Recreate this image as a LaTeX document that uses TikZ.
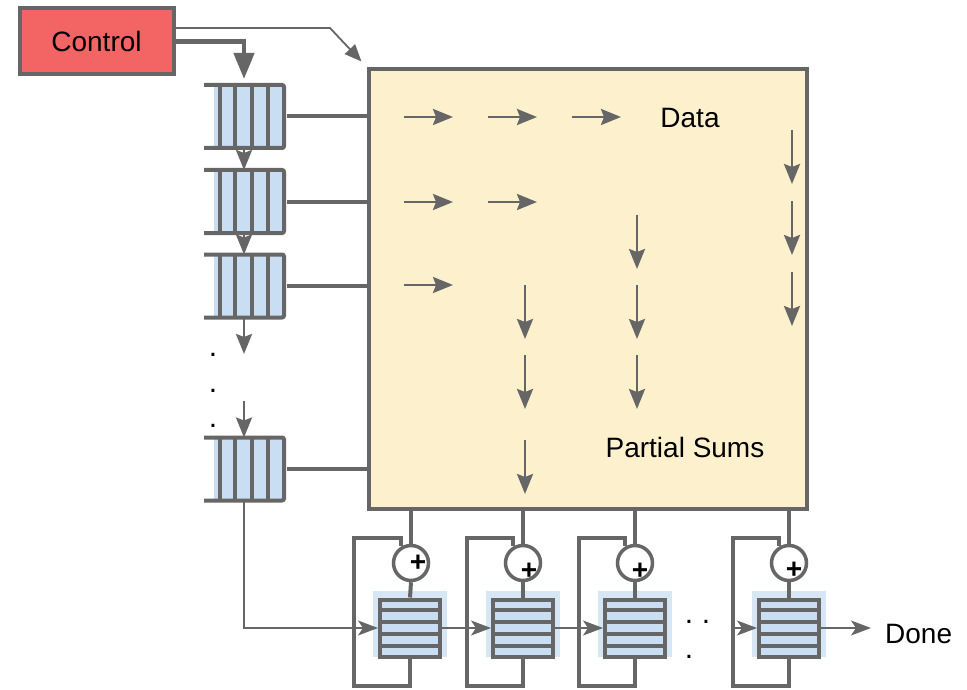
\documentclass[tikz,border=0pt]{standalone}
\usepackage{fontspec}
\setmainfont{Liberation Sans}
\usetikzlibrary{arrows.meta,calc}
\definecolor{lg}{HTML}{666666}
\definecolor{ctrlred}{HTML}{F36464}
\definecolor{cream}{HTML}{FDF0CD}
\definecolor{qblue}{HTML}{C9DEF2}
\definecolor{qhalo}{HTML}{D6E6F5}
\tikzset{
  wire/.style={draw=lg, line width=4pt},
  flow/.style={draw=lg, line width=2.6pt, -{Stealth[length=20pt,width=16pt,inset=3pt]}},
  thinflow/.style={draw=lg, line width=1.8pt, -{Stealth[length=20pt,width=15pt,inset=5pt]}},
  lbl/.style={font=\fontsize{28}{30}\selectfont, text=black, inner sep=0pt},
  dotmark/.style={font=\fontsize{30}{30}\selectfont, inner sep=0pt},
  plusmark/.style={font=\bfseries\fontsize{28}{28}\selectfont, inner sep=0pt},
}
\newcommand\vqueue[2]{%
  \node[minimum width=80pt, minimum height=63pt, inner sep=0pt, outer sep=0pt] (#1) at (244,#2) {};
  \fill[qblue] ([xshift=10pt]#1.south west) rectangle (#1.north east);
  \foreach \dx in {16,31,48,64} \draw[wire] ([xshift=\dx pt]#1.north west) -- ([xshift=\dx pt]#1.south west);
  \draw[wire, rounded corners=2pt] (#1.north west) -- (#1.north east) -- (#1.south east) -- (#1.south west);
}
\newcommand\hqueue[2]{%
  \fill[qhalo] (#2-37,591) rectangle (#2+37,657);
  \node[fill=qblue, draw=lg, line width=4pt, minimum width=60pt, minimum height=57pt, inner sep=0pt] (#1) at (#2,628) {};
  \foreach \dy in {12,24,36,48} \draw[wire] ([yshift=-\dy pt]#1.north west) -- ([yshift=-\dy pt]#1.north east);
}
\newcommand\accum[4]{%
  \node[circle, draw=lg, line width=3.5pt, fill=white, minimum size=35pt, inner sep=0pt] (#1) at (#2,563) {};
  \node[plusmark] at (#2+#3,563+#4) {+};
}
\begin{document}
\begin{tikzpicture}[x=1pt,y=-1pt]
\useasboundingbox (0,0) rectangle (967,690);

% control
\node[draw=lg, line width=4pt, fill=ctrlred, minimum width=154pt, minimum height=66pt, inner sep=0pt] (ctrl) at (96.5,41.5) {};
\node[lbl] (ctrltext) at (ctrl.center) {Control};

% main array
\node[draw=lg, line width=4pt, fill=cream, minimum width=438pt, minimum height=439pt, inner sep=0pt] (pe) at (587.5,289) {};
\node[lbl] (data) at (690,118) {Data};
\node[lbl] (psums) at (685,447) {Partial Sums};

% data arrows
\foreach \y/\xs in {117/{404,488,572}, 202/{404,488}, 285/{404}} {
  \foreach \x in \xs { \draw[flow] (\x,\y) -- (\x+49,\y); }
}
% partial sum arrows
\foreach \x/\ys in {792/{130,201,272}, 637/{215,285,355}, 525/{285,355,440}} {
  \foreach \y in \ys { \draw[flow] (\x,\y) -- (\x,\y+54); }
}

% input queues
\vqueue{vq1}{116.5}
\vqueue{vq2}{201.5}
\vqueue{vq3}{286}
\vqueue{vq4}{469}

\foreach \q in {vq1,vq2,vq3,vq4} { \draw[wire, shorten <=3pt] (\q.east) -- (\q.east -| pe.west); }

% control connectors
\draw[draw=lg, line width=4.5pt, -{Triangle[length=26pt,width=20pt]}] (ctrl.east) -| ([yshift=6pt]vq1.north);
\coordinate (bend) at (330,28);
\draw[draw=lg, line width=1.8pt, -{Triangle[length=17pt,width=14pt]}] ([yshift=13.5pt]ctrl.east) -- (bend) -- ([shift={(-5pt,6pt)}]pe.north west);

% queue chain
\draw[flow] (vq1.south) -- (vq2.north);
\draw[flow] (vq2.south) -- (vq3.north);
\coordinate (gapA) at (244,354);
\coordinate (gapB) at (244,401);
\draw[flow] (vq3.south) -- (gapA);
\draw[flow] (gapB) -- (vq4.north);
\node[dotmark] (d1) at (213,355) {.};
\node[dotmark] (d2) at (213,391) {.};
\node[dotmark] (d3) at (213,426) {.};

% accumulators
\accum{ad1}{411}{7}{0}
\accum{ad2}{523}{6}{8}
\accum{ad3}{635}{5}{8}
\accum{ad4}{789}{5}{7}
\hqueue{aq1}{410}
\hqueue{aq2}{523}
\hqueue{aq3}{635}
\hqueue{aq4}{789}

\foreach \i in {1,2,3,4} {
  \draw[wire] (ad\i.north |- pe.south) -- (ad\i.north);
  \draw[wire] (ad\i.south) -- (aq\i.north);
  \draw[wire] (aq\i.south) -- ++(0,27) -| ++(-56,-148) -| (ad\i.120);
}

\draw[thinflow] (vq4.south) |- (aq1.west);
\draw[thinflow] (aq1.east) -- (aq2.west);
\draw[thinflow] (aq2.east) -- (aq3.west);
\draw[thinflow] ([xshift=-22pt]aq4.west) -- (aq4.west);

\node[dotmark] (e1) at (689,622) {.};
\node[dotmark] (e2) at (706,622) {.};
\node[dotmark] (e3) at (689,657) {.};

\node[lbl, anchor=west] (done) at (885,634) {Done};
\draw[thinflow, shorten >=14pt] (aq4.east) -- (aq4.east -| done.west);
\end{tikzpicture}
\end{document}
